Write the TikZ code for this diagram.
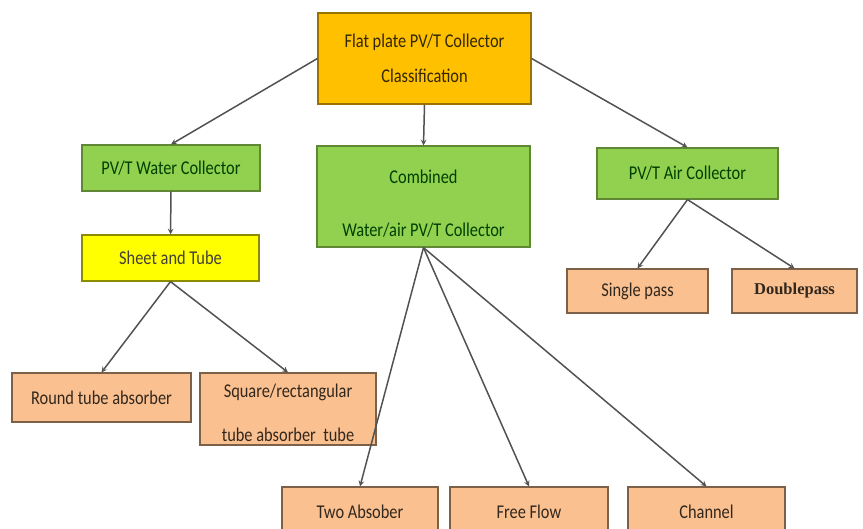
\documentclass[tikz,border=0pt]{standalone}
\usepackage{fontspec}
\setmainfont[FakeStretch=0.84]{Carlito}
\newfontfamily\serifbold{Liberation Serif}
\usepackage{xcolor}
\usetikzlibrary{shapes, arrows, positioning, calc}

\definecolor{topfill}{HTML}{FFC000}
\definecolor{greenfill}{HTML}{92D050}
\definecolor{yellowfill}{HTML}{FFFF00}
\definecolor{peachfill}{HTML}{FAC090}

\begin{document}
\begin{tikzpicture}[
    x=1pt, y=-1pt,
    font=\fontsize{19.5}{22}\selectfont,
    block/.style={rectangle, draw, line width=1.2pt, align=center, inner sep=0pt},
    topblock/.style={block, fill=topfill, draw=topfill!60!black, text=black!80!topfill},
    greenblock/.style={block, fill=greenfill, draw=greenfill!65!black, text=green!25!black},
    yellowblock/.style={block, fill=yellowfill, draw=yellowfill!55!black, text=black!85!yellow},
    leafblock/.style={block, fill=peachfill, draw=peachfill!50!black, text=black!80!peachfill},
    arrow/.style={line width=1.5pt, draw=black!68, ->, >=stealth}
]
\useasboundingbox (0,0) rectangle (863,528);

% Root
\node (root) [topblock, minimum width=213pt, minimum height=91pt] at (424.5,58.5)
    {Flat plate PV/T Collector\\[13pt]Classification};

% Second level
\node (water) [greenblock, minimum width=178pt, minimum height=46pt] at (171,168) {PV/T Water Collector};
\node (comb) [greenblock, minimum width=213pt, minimum height=101pt] at (423.5,196.5) {};
\node [text=green!25!black, align=center] at ([yshift=-7pt]comb.center)
    {Combined\\[31pt]Water/air PV/T Collector};
\node (air) [greenblock, minimum width=181pt, minimum height=51pt] at (687.5,173.5) {PV/T Air Collector};

% Water branch
\node (sheet) [yellowblock, minimum width=177pt, minimum height=46pt] at (170.5,258) {Sheet and Tube};
\node (round) [leafblock, minimum width=179pt, minimum height=49pt] at (101.5,397.5) {Round tube absorber};
\node (square) [leafblock, minimum width=176pt, minimum height=72pt] at (288,409) {};
\node [text=black!80!peachfill, align=center] at ([yshift=-4pt]square.center)
    {Square/rectangular\\[22pt]tube absorber\ \ tube};

% Air branch
\node (single) [leafblock, minimum width=141pt, minimum height=44pt] at (637.5,291) {Single pass};
\node (double) [leafblock, minimum width=125pt, minimum height=44pt] at (794.5,291)
    {\serifbold\bfseries\fontsize{16.5}{19}\selectfont Doublepass};

% Combined branch
\node (two) [leafblock, minimum width=156pt, minimum height=50pt] at (360,512) {Two Absober};
\node (free) [leafblock, minimum width=158pt, minimum height=50pt] at (529,512) {Free Flow};
\node (channel) [leafblock, minimum width=157pt, minimum height=50pt] at (706.5,512) {Channel};

% Arrows
\draw [arrow] (root.west) -- (water.north);
\draw [arrow] (root.south) -- (comb.north);
\draw [arrow] (root.east) -- (air.north);
\draw [arrow] (water) -- (sheet);
\draw [arrow] (sheet.south) -- (round.north);
\draw [arrow] (sheet.south) -- (square.north);
\draw [arrow] (air.south) -- (single.north);
\draw [arrow] (air.south) -- (double.north);
\draw [arrow] (comb.south) -- (two.north);
\draw [arrow] (comb.south) -- (free.north);
\draw [arrow] (comb.south) -- (channel.north);

\end{tikzpicture}
\end{document}
